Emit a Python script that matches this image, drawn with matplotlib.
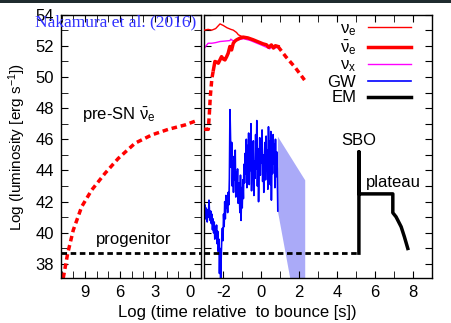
import numpy as np
import matplotlib
matplotlib.use('Agg')
import matplotlib.pyplot as plt
from matplotlib.patches import Rectangle
from matplotlib.ticker import MultipleLocator, FixedLocator

plt.rcParams['font.family'] = ['Liberation Sans', 'DejaVu Sans']
plt.rcParams['mathtext.fontset'] = 'custom'
plt.rcParams['mathtext.rm'] = 'Liberation Sans'
plt.rcParams['mathtext.it'] = 'Liberation Sans:italic'
plt.rcParams['axes.unicode_minus'] = False

# pre-SN anti-nu_e (left panel, log time before bounce)
presn_t = [10.86, 10.48, 10.0, 9.28, 8.42, 7.28, 6.14, 4.71, 3.28, 1.86, 0.43, -0.57]
presn_v = [37.1, 38.68, 40.18, 41.68, 42.75, 43.82, 44.78, 45.75, 46.28, 46.64, 46.92, 47.2]
progenitor_lum = 38.7

# neutrinos after bounce (right panel)
nue_t = [-3.0, -2.8, -2.6, -2.4, -2.17, -2.0, -1.8, -1.6, -1.47, -1.3, -1.2, -1.03,
         -0.8, -0.6, -0.42, -0.2, 0.0, 0.28, 0.45, 0.54, 0.7, 0.89]
nue_v = [53.0, 53.05, 53.0, 53.1, 53.4, 53.3, 53.15, 53.05, 53.0, 52.85, 52.7, 52.6,
         52.55, 52.45, 52.38, 52.25, 52.15, 52.06, 51.95, 52.0, 51.9, 51.95]

anue_pre_t = [-3.0, -2.79, -2.74, -2.68, -2.6, -2.52]
anue_pre_v = [46.64, 46.64, 47.5, 48.8, 49.9, 50.45]
anue_t = [-2.52, -2.44, -2.35, -2.26, -2.17, -2.09, -2.0, -1.91, -1.82, -1.74, -1.65,
          -1.56, -1.47, -1.38, -1.29, -1.1, -0.94, -0.7, -0.42, -0.1, 0.1, 0.28, 0.4,
          0.54, 0.65, 0.75, 0.89]
anue_v = [50.45, 50.99, 50.95, 50.88, 51.1, 51.3, 51.15, 51.09, 51.3, 51.52, 51.95,
          51.73, 52.16, 52.3, 52.38, 52.5, 52.55, 52.5, 52.38, 52.22, 52.12, 52.06, 51.9,
          52.05, 51.85, 52.0, 51.95]
anue_post_t = [0.89, 1.3, 1.8, 2.29]
anue_post_v = [51.95, 51.3, 50.6, 49.8]

nux_t = [-3.0, -2.9, -2.8, -2.6, -2.4, -2.17, -1.9, -1.65, -1.6, -1.47, -1.2, -0.94,
         -0.6, -0.3, 0.0, 0.28, 0.45, 0.6, 0.75, 0.89]
nux_v = [51.84, 52.0, 52.16, 52.16, 52.2, 52.27, 52.3, 52.33, 52.42, 52.3, 52.38, 52.45,
         52.35, 52.2, 52.05, 51.9, 51.8, 51.95, 51.85, 51.92]

# gravitational waves
gw_lum = [41.2, 41.8, 40.9, 41.6, 41.1, 40.7, 41.5, 41.0, 42.1, 41.3,
          40.8, 41.4, 40.6, 41.2, 40.2, 40.9, 40.0, 40.7, 39.6, 40.4, 39.8, 40.5,
          39.3, 40.1, 38.8, 39.6, 37.4, 39.0, 36.8, 38.5, 39.7,
          40.3, 39.5, 41.2, 40.4, 42.0, 40.9, 42.4, 41.6, 42.2, 41.3, 42.6, 41.8, 43.5,
          47.9, 46.0, 44.2,
          45.8, 43.0, 44.6, 42.6, 44.9, 43.4, 45.3, 42.3, 43.9, 42.8, 44.1, 41.9, 43.2,
          42.5, 41.3, 43.7, 40.8, 42.9, 41.6, 43.4, 42.2, 44.4,
          43.2, 45.1, 43.8, 46.0, 42.9, 45.6, 44.3, 46.4, 43.1, 45.2, 44.0, 47.0, 42.7,
          44.8, 43.6, 45.9, 42.4, 44.6, 43.5, 46.3, 44.1, 47.2, 43.0, 45.4, 42.0, 44.2,
          46.1, 43.7, 45.6, 44.5, 46.6, 43.3, 45.0, 42.6, 44.7, 45.8, 43.4, 46.2, 44.0,
          45.3, 42.8, 46.8, 44.6, 45.9, 43.1, 46.5, 42.1, 44.9, 43.8, 46.3, 44.4, 45.7,
          42.9, 46.0, 43.6, 45.2, 44.1, 41.4]
gw_t = np.linspace(-3.0, 0.88, len(gw_lum))
gw_band_t = [0.86, 2.3]
gw_band_hi = [46.2, 43.4]
gw_band_lo = [41.4, 31.9]

# electromagnetic (shock breakout + plateau)
em_t = [5.16, 5.16, 5.16, 5.16, 6.95, 6.95, 7.12, 7.39, 7.56, 7.74]
em_v = [38.7, 45.2, 42.5, 42.5, 42.5, 41.29, 41.03, 40.39, 39.75, 39.0]

fig = plt.figure(figsize=(4.52, 3.23), dpi=100)
fig.add_artist(Rectangle((0, 1 - 3 / 323), 1, 3 / 323, transform=fig.transFigure,
                         color='#1f2b2e', lw=0))
ax1 = fig.add_axes([0.135, 0.139, 0.310, 0.816])
ax2 = fig.add_axes([0.452, 0.139, 0.503, 0.816])

dash_red = (0, (1.6, 1.1))
dash_blk = (0, (2.0, 1.3))

ax1.plot(presn_t, presn_v, color='red', lw=2.5, ls=dash_red)
ax1.axhline(progenitor_lum, color='black', lw=2, ls=dash_blk)
ax1.set_xlim(11.05, -0.95)
ax1.set_ylim(37.1, 54)
ax1.text(9.25, 47.5, r'pre-SN $\mathregular{\bar{ν}_e}$', fontsize=12, va='center')
ax1.text(8.05, 39.6, 'progenitor', fontsize=12, va='center')
ax1.xaxis.set_major_locator(FixedLocator([9, 6, 3, 0]))
ax1.xaxis.set_minor_locator(MultipleLocator(1))
ax1.yaxis.set_major_locator(MultipleLocator(2))
ax1.yaxis.set_minor_locator(MultipleLocator(1))

ax2.fill_between(gw_band_t, gw_band_lo, gw_band_hi, color='#aaaaf8', lw=0, zorder=1)
ax2.plot(gw_t, gw_lum, color='blue', lw=1.2, zorder=2, label='GW')
ax2.plot([-3.0, em_t[0]], [progenitor_lum, progenitor_lum], color='black', lw=2, ls=dash_blk)
ax2.plot(nue_t, nue_v, color='red', lw=1, label=r'$\mathregular{ν_e}$', zorder=4)
ax2.plot(anue_pre_t, anue_pre_v, color='red', lw=2.5, ls=dash_red, zorder=3)
ax2.plot(anue_t, anue_v, color='red', lw=2.5, label=r'$\mathregular{\bar{ν}_e}$', zorder=3)
ax2.plot(anue_post_t, anue_post_v, color='red', lw=2.5, ls=dash_red, zorder=3)
ax2.plot(nux_t, nux_v, color='magenta', lw=1, label=r'$\mathregular{ν_x}$', zorder=2.5)
ax2.plot(em_t, em_v, color='black', lw=2.5, label='EM')
ax2.text(5.17, 45.9, 'SBO', fontsize=12, ha='center', va='center')
ax2.text(5.51, 43.25, 'plateau', fontsize=12, ha='left', va='center')
ax2.set_xlim(-3, 9)
ax2.set_ylim(37.1, 54)
ax2.xaxis.set_major_locator(MultipleLocator(2))
ax2.xaxis.set_minor_locator(MultipleLocator(1))
ax2.yaxis.set_major_locator(MultipleLocator(1))
ax2.tick_params(axis='y', labelleft=False)

h, l = ax2.get_legend_handles_labels()
order = [l.index(s) for s in [r'$\mathregular{ν_e}$', r'$\mathregular{\bar{ν}_e}$',
                              r'$\mathregular{ν_x}$', 'GW', 'EM']]
ax2.legend([h[i] for i in order], [l[i] for i in order], loc='upper right',
           bbox_to_anchor=(0.91, 0.975), frameon=False, markerfirst=False,
           fontsize=12, handlelength=2.6, handletextpad=0.7, labelspacing=0.03,
           borderpad=0, borderaxespad=0)

for ax in (ax1, ax2):
    ax.tick_params(which='both', direction='in', top=True, right=True,
                   labelsize=12, pad=5)
    ax.tick_params(which='major', length=5)
    ax.tick_params(which='minor', length=5)
    for s in ax.spines.values():
        s.set_linewidth(1)

fig.text(17 / 452, 1 - 147 / 323, 'Log (luminosity [erg s$^{-1}$])', fontsize=11,
         rotation=90, ha='center', va='center')
fig.text(237 / 452, 1 - 312 / 323, 'Log (time relative  to bounce [s])', fontsize=12,
         ha='center', va='center')
fig.text(35 / 452, 1 - 22 / 323, 'Nakamura et al. (2016)', family='Liberation Serif',
         color='#3030ff', fontsize=12.5, va='center')

fig.savefig('out.png', dpi=100)
